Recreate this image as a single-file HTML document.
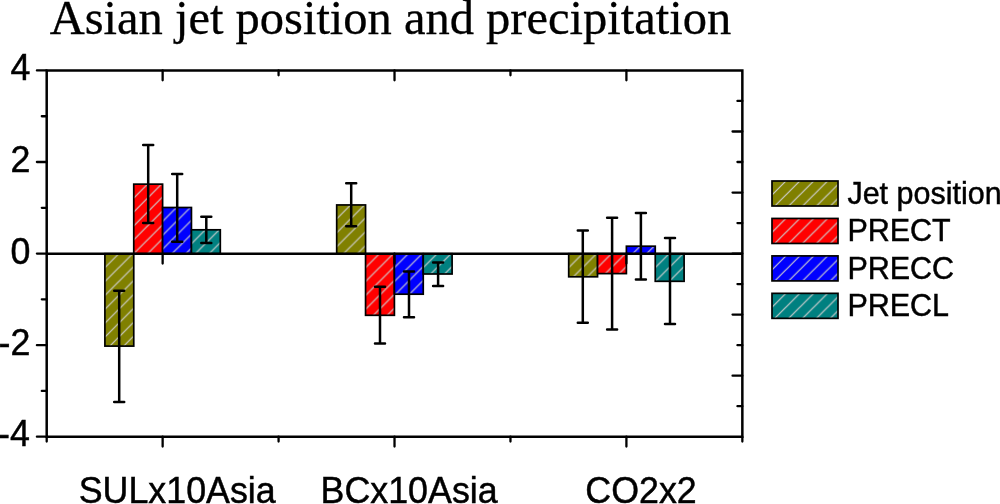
<!DOCTYPE html>
<html><head><meta charset="utf-8"><title>Asian jet position and precipitation</title>
<style>
html,body{margin:0;padding:0;background:#fff;}
body{width:1000px;height:504px;overflow:hidden;}
svg{display:block;}
.s{font-family:"Liberation Sans",Arial,sans-serif;fill:#000;stroke:#000;stroke-width:0.45px;}
.t{font-family:"Liberation Serif","Times New Roman",serif;fill:#000;stroke:#000;stroke-width:0.3px;}
.b{stroke:#000;stroke-width:1.7px;}
</style></head><body>
<svg width="1000" height="504" viewBox="0 0 1000 504">
<defs>
<pattern id="h" patternUnits="userSpaceOnUse" width="13.9" height="13.9">
<path d="M-2,2 L2,-2 M-2,15.9 L15.9,-2 M11.9,15.9 L15.9,11.9" stroke="#cecece" stroke-width="1.2" fill="none"/>
</pattern>
</defs>
<rect width="1000" height="504" fill="#fff"/>
<text class="t" transform="translate(49.7,33.6) scale(1,1.01)" font-size="48.5">Asian jet position and precipitation</text>
<g transform="translate(104.90,253.70)"><rect width="28.85" height="92.40" fill="#808000"/><rect class="b" width="28.85" height="92.40" fill="url(#h)"/></g>
<g transform="translate(133.75,184.15)"><rect width="28.85" height="69.55" fill="#ff0000"/><rect class="b" width="28.85" height="69.55" fill="url(#h)"/></g>
<g transform="translate(162.60,207.50)"><rect width="28.85" height="46.20" fill="#0000ff"/><rect class="b" width="28.85" height="46.20" fill="url(#h)"/></g>
<g transform="translate(191.45,229.80)"><rect width="28.85" height="23.90" fill="#008080"/><rect class="b" width="28.85" height="23.90" fill="url(#h)"/></g>
<g transform="translate(336.70,204.95)"><rect width="28.85" height="48.75" fill="#808000"/><rect class="b" width="28.85" height="48.75" fill="url(#h)"/></g>
<g transform="translate(365.55,253.70)"><rect width="28.85" height="61.60" fill="#ff0000"/><rect class="b" width="28.85" height="61.60" fill="url(#h)"/></g>
<g transform="translate(394.40,253.70)"><rect width="28.85" height="40.50" fill="#0000ff"/><rect class="b" width="28.85" height="40.50" fill="url(#h)"/></g>
<g transform="translate(423.25,253.70)"><rect width="28.85" height="20.30" fill="#008080"/><rect class="b" width="28.85" height="20.30" fill="url(#h)"/></g>
<g transform="translate(568.70,253.70)"><rect width="28.85" height="23.10" fill="#808000"/><rect class="b" width="28.85" height="23.10" fill="url(#h)"/></g>
<g transform="translate(597.55,253.70)"><rect width="28.85" height="19.90" fill="#ff0000"/><rect class="b" width="28.85" height="19.90" fill="url(#h)"/></g>
<g transform="translate(626.40,246.20)"><rect width="28.85" height="7.50" fill="#0000ff"/><rect class="b" width="28.85" height="7.50" fill="url(#h)"/></g>
<g transform="translate(655.25,253.70)"><rect width="28.85" height="27.60" fill="#008080"/><rect class="b" width="28.85" height="27.60" fill="url(#h)"/></g>
<path d="M46.7,253.7 H742.35" stroke="#000" stroke-width="2.5" fill="none"/>
<path d="M119.2,290.7 V402.1 M114.2,290.7 h10 M114.2,402.1 h10 M148.2,144.95 V223.0 M143.2,144.95 h10 M143.2,223.0 h10 M177.2,174.1 V241.8 M172.2,174.1 h10 M172.2,241.8 h10 M206.3,216.7 V242.9 M201.3,216.7 h10 M201.3,242.9 h10 M351.2,183.3 V226.2 M346.2,183.3 h10 M346.2,226.2 h10 M380.0,286.7 V343.6 M375.0,286.7 h10 M375.0,343.6 h10 M409.0,271.5 V317.3 M404.0,271.5 h10 M404.0,317.3 h10 M438.1,262.4 V286.1 M433.1,262.4 h10 M433.1,286.1 h10 M582.8,230.5 V322.7 M577.8,230.5 h10 M577.8,322.7 h10 M612.1,217.7 V329.5 M607.1,217.7 h10 M607.1,329.5 h10 M640.9,212.9 V279.5 M635.9,212.9 h10 M635.9,279.5 h10 M670.0,238.0 V324.1 M665.0,238.0 h10 M665.0,324.1 h10 " stroke="#000" stroke-width="2.5" stroke-linecap="round" fill="none"/>
<path d="M46.7,70.45 H742.35 V436.7 H46.7 Z" stroke="#000" stroke-width="2.5" fill="none" stroke-linejoin="miter"/>
<path d="M46.7,70.45 h-9.8 M46.7,116.23 h-4.9 M46.7,162.01 h-9.8 M46.7,207.79 h-4.9 M46.7,253.57 h-9.8 M46.7,299.36 h-4.9 M46.7,345.14 h-9.8 M46.7,390.92 h-4.9 M46.7,436.70 h-9.8 M742.35,100.97 h-4.9 M742.35,131.49 h-9.8 M742.35,162.01 h-4.9 M742.35,192.53 h-9.8 M742.35,223.05 h-4.9 M742.35,253.57 h-9.8 M742.35,284.10 h-4.9 M742.35,314.62 h-9.8 M742.35,345.14 h-4.9 M742.35,375.66 h-9.8 M742.35,406.18 h-4.9 M46.70,436.7 v4.9 M162.64,70.45 v9.8 M162.64,436.7 v9.8 M162.64,253.7 v9.8 M278.58,70.45 v4.9 M278.58,436.7 v4.9 M394.52,70.45 v9.8 M394.52,436.7 v9.8 M394.52,253.7 v9.8 M510.47,70.45 v4.9 M510.47,436.7 v4.9 M626.41,70.45 v9.8 M626.41,436.7 v9.8 M626.41,253.7 v9.8 M742.35,436.7 v4.9 " stroke="#000" stroke-width="2.3" stroke-linecap="round" fill="none"/>
<text class="s" transform="translate(30.3,80.2) scale(1,1.04)" font-size="35.8" text-anchor="end">4</text>
<text class="s" transform="translate(30.3,172.0) scale(1,1.04)" font-size="35.8" text-anchor="end">2</text>
<text class="s" transform="translate(30.3,264.4) scale(1,1.04)" font-size="35.8" text-anchor="end">0</text>
<text class="s" transform="translate(30.3,354.9) scale(1,1.04)" font-size="35.8" text-anchor="end">-2</text>
<text class="s" transform="translate(29.8,446.2) scale(1,1.04)" font-size="35.8" text-anchor="end">-4</text>
<text class="s" transform="translate(177.2,503.1) scale(1,1.04)" font-size="35.8" text-anchor="middle">SULx10Asia</text>
<text class="s" transform="translate(409.1,503.1) scale(1,1.04)" font-size="35.8" text-anchor="middle">BCx10Asia</text>
<text class="s" transform="translate(641.0,503.1) scale(1,1.04)" font-size="35.8" text-anchor="middle">CO2x2</text>
<g transform="translate(772.00,181.00)"><rect width="66.00" height="25.00" fill="#808000"/><rect class="b" width="66.00" height="25.00" fill="url(#h)"/></g>
<text class="s" transform="translate(847.4,204.0) scale(1,1.02)" font-size="30.5">Jet position</text>
<g transform="translate(772.00,218.45)"><rect width="66.00" height="25.00" fill="#ff0000"/><rect class="b" width="66.00" height="25.00" fill="url(#h)"/></g>
<text class="s" transform="translate(847.4,241.4) scale(1,1.02)" font-size="30.5">PRECT</text>
<g transform="translate(772.00,255.90)"><rect width="66.00" height="25.00" fill="#0000ff"/><rect class="b" width="66.00" height="25.00" fill="url(#h)"/></g>
<text class="s" transform="translate(847.4,278.9) scale(1,1.02)" font-size="30.5">PRECC</text>
<g transform="translate(772.00,293.35)"><rect width="66.00" height="25.00" fill="#008080"/><rect class="b" width="66.00" height="25.00" fill="url(#h)"/></g>
<text class="s" transform="translate(847.4,316.4) scale(1,1.02)" font-size="30.5">PRECL</text>
</svg>
</body></html>
